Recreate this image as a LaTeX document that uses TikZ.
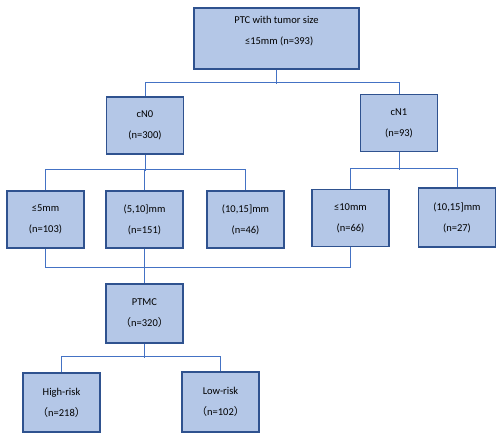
\documentclass[tikz,border=0pt]{standalone}
\usepackage{fontspec}
\setmainfont{Carlito}
\newfontfamily\cjk{Noto Sans CJK SC}
\usepackage{xcolor}
\definecolor{boxEdge}{HTML}{2F528F}
\definecolor{boxFill}{HTML}{B4C7E7}
\definecolor{linkColor}{HTML}{4472C4}
\usepackage{tikz}
\usetikzlibrary{positioning,calc}
\tikzset{
  groupBox/.style={
    rectangle,
    draw=boxEdge,
    fill=boxFill,
    line width=1.1pt,
    minimum width=77pt,
    minimum height=57pt,
    inner sep=0pt,
    align=center,
    font=\fontsize{10.5}{21}\selectfont
 },
  linkLine/.style={
    line width=1pt,
    color=linkColor
 }
}

\begin{document}
\begin{tikzpicture}[x=1pt,y=-1pt]
            \useasboundingbox (0,0) rectangle (500,437);

            % whole cohort on top
            \node[groupBox, minimum width=165pt, minimum height=61pt] (all) at (276.5,38.5) {PTC with tumor size\\ \,\,\,≤15mm (n=393)\\[-4pt]};

            % clinical N stage
            \node[groupBox] (cn0) at (145,125.5) {cN0\\(n=300)};
            \node[groupBox] (cn1) at (399,123) {cN1\\(n=93)};
            \draw[linkLine] (all.south) -- ++(0,14);
            \draw[linkLine] (cn0.north) -- ++(0,-14) -| (cn1.north);

            % size groups under cN0
            \node[groupBox] (cn0a) at (45.5,219.5) {≤5mm\\(n=103)};
            \node[groupBox] (cn0b) at (144.5,219.5) {(5,10]mm\\(n=151)};
            \node[groupBox] (cn0c) at (245.5,219.5) {(10,15]mm\\(n=46)};
            \draw[linkLine] (cn0.south) -- ++(0,16);
            \draw[linkLine] (cn0a.north) -- ++(0,-21) -| (cn0c.north);
            \draw[linkLine] (cn0b.north) -- ++(0,-21);

            % size groups under cN1
            \node[groupBox] (cn1a) at (350.5,218) {≤10mm\\(n=66)};
            \node[groupBox, minimum height=59pt] (cn1b) at (457,217.5) {(10,15]mm\\(n=27)};
            \draw[linkLine] (cn1.south) -- ++(0,18);
            \draw[linkLine] (cn1a.north) -- ++(0,-20) -| (cn1b.north);

            % micro carcinoma pooled
            \node[groupBox, minimum height=59pt] (ptmc) at (144.5,313.5) {PTMC\\{\cjk （}n=320{\cjk ）}};
            \draw[linkLine] (cn0a.south) -- ++(0,19) -| (cn1a.south);
            \draw[linkLine] (cn0b.south) -- (ptmc.north);

            % risk groups
            \node[groupBox, minimum height=59pt] (high) at (61.5,402.5) {High-risk\\{\cjk （}n=218{\cjk ）}};
            \node[groupBox, minimum height=60pt] (low) at (220.5,402) {Low-risk\\{\cjk （}n=102{\cjk ）}};
            \draw[linkLine] (ptmc.south) -- ++(0,14);
            \draw[linkLine] (high.north) -- ++(0,-16) -| (low.north);

        \end{tikzpicture}
\end{document}
